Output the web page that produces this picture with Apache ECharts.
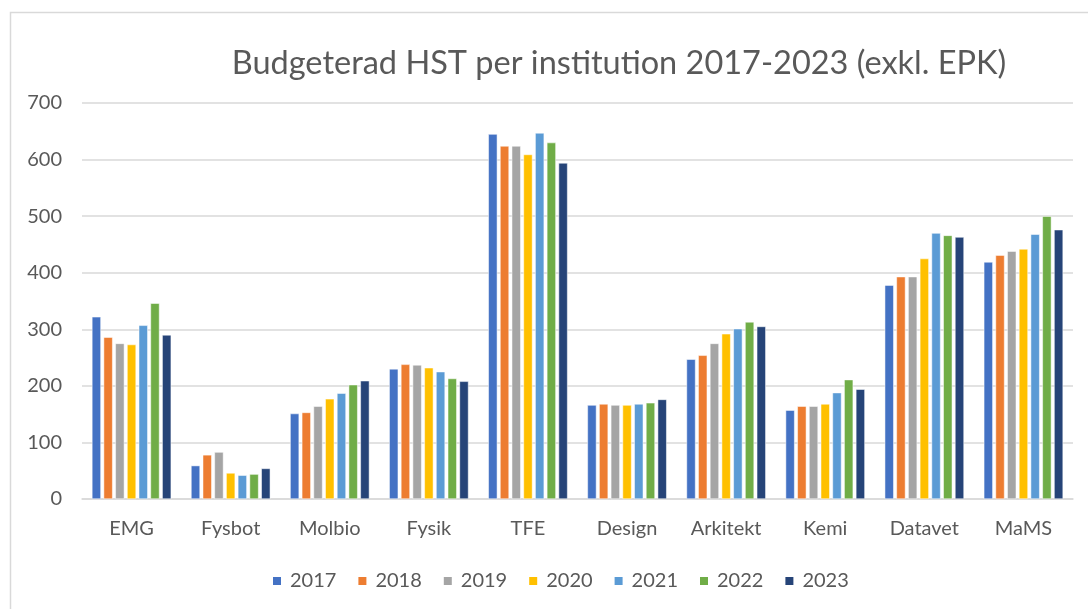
<!DOCTYPE html>
<html>
<head>
<meta charset="utf-8">
<script src="https://cdn.jsdelivr.net/npm/echarts@6/dist/echarts.min.js"></script>
<style>html,body{margin:0;padding:0;background:#fff}#c{width:1088px;height:609px}</style>
</head>
<body>
<div id="c"></div>
<script>
const categories = ['EMG','Fysbot','Molbio','Fysik','TFE','Design','Arkitekt','Kemi','Datavet','MaMS'];
const years = ['2017','2018','2019','2020','2021','2022','2023'];
const colors = ['#4472C4','#ED7D31','#A5A5A5','#FFC000','#5B9BD5','#70AD47','#264478'];
const v2017 = [322, 59, 151, 230, 645, 166, 247, 157, 378, 419];
const v2018 = [286, 78, 153, 238, 624, 168, 254, 164, 393, 431];
const v2019 = [275, 83, 164, 237, 624, 166, 275, 164, 393, 438];
const v2020 = [273, 46, 177, 232, 609, 166, 292, 168, 425, 442];
const v2021 = [307, 42, 187, 225, 647, 168, 301, 188, 470, 468];
const v2022 = [346, 44, 202, 213, 630, 170, 313, 211, 466, 500];
const v2023 = [290, 54, 209, 208, 594, 176, 305, 194, 463, 476];
const yTicks = [0, 100, 200, 300, 400, 500, 600, 700];
const seriesValues = [v2017, v2018, v2019, v2020, v2021, v2022, v2023];

const font = 'Lato, "Open Sans", sans-serif';
const chart = echarts.init(document.getElementById('c'));
chart.setOption({
  animation: false,
  color: colors,
  graphic: [{
    type: 'rect', left: 8, top: 10, shape: {width: 1100, height: 620},
    style: {fill: 'none', stroke: '#d9d9d9', lineWidth: 1.5}, silent: true, z: -1
  }],
  title: {
    text: 'Budgeterad HST per institution 2017-2023 (exkl. EPK)',
    left: 614, top: 42, textAlign: 'center',
    textStyle: {fontFamily: font, fontSize: 32.5, fontWeight: 'normal', color: '#595959'}
  },
  legend: {
    data: years, top: 566, left: 266,
    itemWidth: 10, itemHeight: 10, itemGap: 20,
    icon: 'rect',
    textStyle: {fontFamily: font, fontSize: 20, color: '#595959', padding: [0, 0, 0, 3]}
  },
  grid: {left: 82, right: 15, top: 103, bottom: 110, containLabel: false},
  xAxis: {
    type: 'category', data: categories,
    axisLine: {lineStyle: {color: '#d9d9d9', width: 1.5}},
    axisTick: {show: false},
    axisLabel: {fontFamily: font, fontSize: 20, color: '#595959', margin: 20}
  },
  yAxis: {
    type: 'value', min: yTicks[0], max: yTicks[yTicks.length-1], interval: 100,
    axisLine: {show: false}, axisTick: {show: false},
    splitLine: {lineStyle: {color: '#d9d9d9', width: 1.5}},
    axisLabel: {fontFamily: font, fontSize: 20, color: '#595959', margin: 20}
  },
  series: years.map((y, i) => ({
    name: y, type: 'bar', data: seriesValues[i],
    barGap: '30%', barCategoryGap: '20%',
    itemStyle: {color: colors[i], borderColor: '#fff', borderWidth: 0.5}
  }))
});
</script>
</body>
</html>
